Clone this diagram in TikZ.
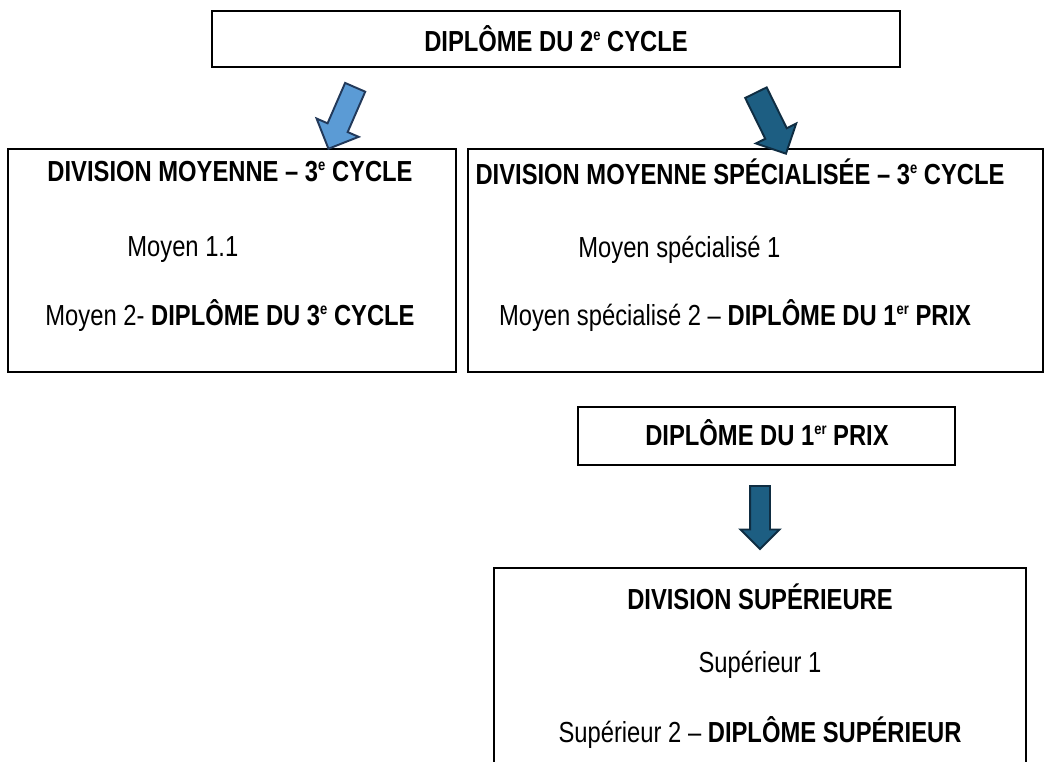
\documentclass[tikz,border=0pt]{standalone}
\usepackage{fontspec}
\setmainfont{Liberation Sans}[FakeStretch=0.82]
\usetikzlibrary{shapes.arrows,positioning}

\definecolor{lightarrow}{HTML}{5B9BD5}
\definecolor{lightedge}{HTML}{22395A}
\definecolor{darkarrow}{HTML}{1D5E82}
\definecolor{darkedge}{HTML}{0F2D42}

\newcommand{\exps}[1]{\raisebox{0.4em}{\fontsize{9}{9}\selectfont #1}}

\tikzset{
  box/.style={draw, rectangle, line width=1.1pt, inner sep=0},
  txt/.style={inner sep=0, font=\fontsize{16.5}{19}\selectfont},
  blockarrow/.style={single arrow, draw, line width=1.1pt, inner xsep=0,
    single arrow head indent=0, single arrow tip angle=90}
}

\begin{document}
\begin{tikzpicture}[x=0.02cm,y=-0.02cm]
\clip (0,0) rectangle (1045,761);

% Top block
\node[box,
    minimum width=13.76cm,
    minimum height=1.12cm
    ] (cycle2) at (556,39) {};
\node[txt] (cycle2t) at (556,39) {\bfseries DIPLÔME DU 2\exps{e} CYCLE};

% Division moyenne
\node[box,
    minimum width=8.96cm,
    minimum height=4.46cm
    ] (moy) at (232,260.5) {};
\node[txt] (moyt) at (230,172) {\bfseries DIVISION MOYENNE -- 3\exps{e} CYCLE};
\node[txt, anchor=west] (moya) at (127,250) {Moyen 1.1};
\node[txt] (moyb) at (230,316) {Moyen 2- \bfseries DIPLÔME DU 3\exps{e} CYCLE};

% Division moyenne specialisee
\node[box,
    minimum width=11.5cm,
    minimum height=4.46cm
    ] (spe) at (755.5,260.5) {};
\node[txt] (spet) at (740,172) {\bfseries DIVISION MOYENNE SPÉCIALISÉE -- 3\exps{e} CYCLE};
\node[txt, anchor=west] (spea) at (578,250) {Moyen spécialisé 1};
\node[txt] (speb) at (735,316) {Moyen spécialisé 2 -- \bfseries DIPLÔME DU 1\exps{er} PRIX};

% Premier prix
\node[box,
    minimum width=7.54cm,
    minimum height=1.16cm
    ] (prix) at (766.5,436) {};
\node[txt] (prixt) at (767,433) {\bfseries DIPLÔME DU 1\exps{er} PRIX};

% Division superieure (cut at the bottom)
\node[box,
    minimum width=10.64cm,
    minimum height=4.64cm
    ] (supdiv) at (760,684) {};
\node[txt] (supt) at (760,597) {\bfseries DIVISION SUPÉRIEURE};
\node[txt] (supa) at (760,665) {Supérieur 1};
\node[txt] (supb) at (760,733) {Supérieur 2 -- \bfseries DIPLÔME SUPÉRIEUR};

% Arrows
\node[blockarrow, fill=lightarrow, draw=lightedge,
    minimum height=1.34cm, inner ysep=0.2cm,
    single arrow head extend=0.24cm,
    rotate=-113.5] (a1) at (344,113) {};
\node[blockarrow, fill=darkarrow, draw=darkedge,
    minimum height=1.36cm, inner ysep=0.22cm,
    single arrow head extend=0.21cm,
    rotate=-63.8] (a2) at (768.3,117.8) {};
\node[blockarrow, fill=darkarrow, draw=darkedge,
    minimum height=1.26cm, inner ysep=0.18cm,
    single arrow head extend=0.19cm,
    rotate=-90] (a3) at (760,512.5) {};

\end{tikzpicture}
\end{document}
